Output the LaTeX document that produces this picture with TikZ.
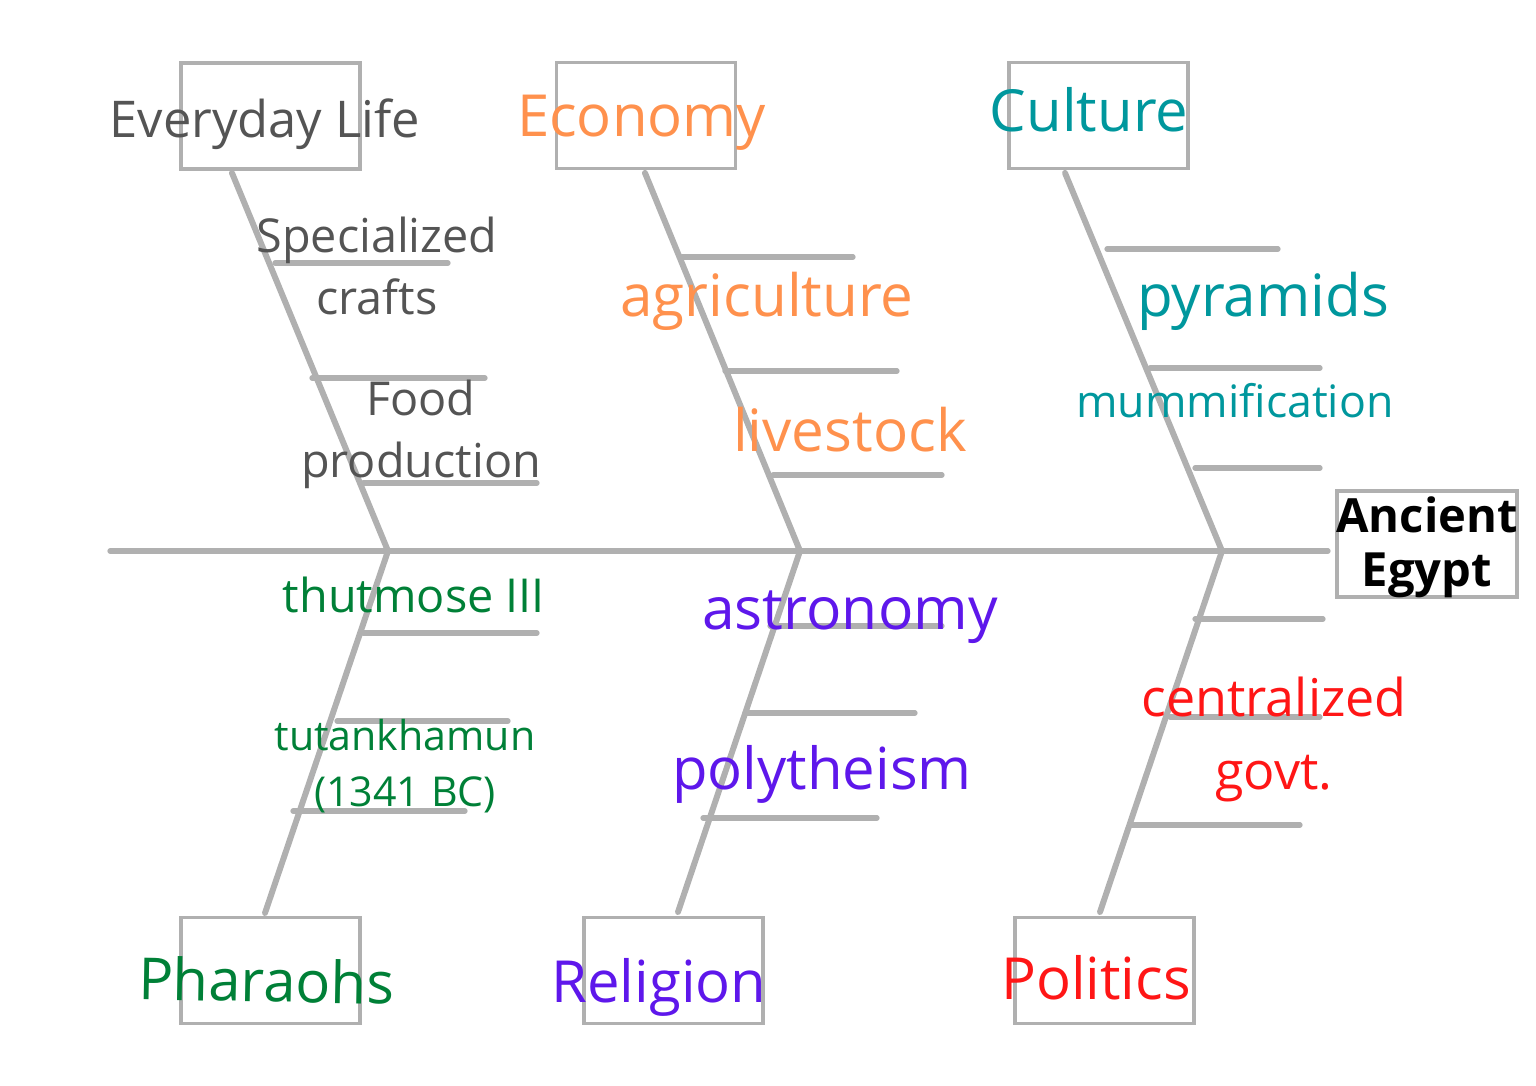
\documentclass[tikz,border=0pt]{standalone}
\usepackage{fontspec}
\setmainfont{Open Sans}
\usetikzlibrary{positioning}
\definecolor{bonegray}{HTML}{B0B0B0}
\definecolor{lifegray}{HTML}{545454}
\definecolor{econorange}{HTML}{FF914D}
\definecolor{cultteal}{HTML}{00979D}
\definecolor{phargreen}{HTML}{008037}
\definecolor{relipurple}{HTML}{5E17EB}
\definecolor{polired}{HTML}{FF1616}
\newcommand{\fs}[2]{\fontsize{#1}{#2}\selectfont}

\begin{document}
\begin{tikzpicture}[x=0.01cm, y=-0.01cm,
	bone/.style={draw=bonegray, line width=1.7pt, line cap=round},
	rib/.style={draw=bonegray, line width=1.5pt, line cap=round},
	catbox/.style={draw=bonegray, line width=1.1pt, minimum width=1.79cm, minimum height=1.06cm, inner sep=0pt},
	lbl/.style={anchor=base, align=center, inner sep=0pt}]
	\useasboundingbox (0,0) rectangle (1536,1086);
	%%%%% SPINE %%%%%
	\coordinate (tail) at (110,551);
	\coordinate (head) at (1328,551);
	\coordinate (lifeJ) at (388,551);
	\coordinate (econJ) at (800,551);
	\coordinate (cultJ) at (1222,551);
	\draw[line width=1.5pt, draw=bonegray, line cap=round] (tail) -- (head);
	
	%%%%% BOXES %%%%%
	\node[catbox] (life) at (270.5,116) {};
	\node[catbox] (econ) at (646,115.5) {};
	\node[catbox] (cult) at (1098.5,115.5) {};
	\node[catbox] (phar) at (270.5,970.5) {};
	\node[catbox] (reli) at (673.5,970.5) {};
	\node[catbox] (poli) at (1104.5,970.5) {};
	\node[catbox, minimum width=1.8cm] (egypt) at (1427,544) {};
	
	%%%%% BONES %%%%%
	\coordinate (lifeT) at (232,173);
	\coordinate (econT) at (645,173);
	\coordinate (cultT) at (1065,173);
	\coordinate (pharB) at (265,913);
	\coordinate (reliB) at (678,912);
	\coordinate (poliB) at (1100,912);
	\draw[bone] (lifeT) -- (lifeJ) -- (pharB);
	\draw[bone] (econT) -- (econJ) -- (reliB);
	\draw[bone] (cultT) -- (cultJ) -- (poliB);
	
	% ribs: x from / x to / y
	\foreach \xa/\xb/\yy in {275/448/263, 312/485/378, 363/537/483,
		682/853/257, 725/897/371, 773/942/475,
		1107/1278/249, 1150/1320/368, 1195/1320/468,
		363/537/633, 337/508/721, 293/465/811,
		770/942/626, 745/915/713, 703/877/818,
		1195/1323/619, 1170/1320/717, 1130/1300/825}
		\draw[rib] (\xa,\yy) -- (\xb,\yy);
	
	%%%%% LABELS %%%%%
	\node[lbl, lifegray, font=\fs{14.4}{17}] (lifeL) at (265,138) {Everyday Life};
	\node[lbl, econorange, font=\fs{16.5}{20}] (econL) at (641.5,137) {Economy};
	\node[lbl, cultteal, font=\fs{16.5}{20}] (cultL) at (1089,132) {Culture};
	\node[lbl, phargreen, rotate=-1, font=\fs{16.5}{20}] (pharL) at (266,1002) {Pharaohs};
	\node[lbl, relipurple, font=\fs{16.5}{20}] (reliL) at (659,1003) {Religion};
	\node[lbl, polired, font=\fs{16.5}{20}] (poliL) at (1096,1000) {Politics};
	\node[lbl, font=\fs{13.4}{15.6}\bfseries] (egyptL) at (1427,587) {Ancient\\Egypt};
	
	\node[lbl, lifegray, font=\fs{13.3}{17.9}] (crafts) at (377,315) {Specialized\\crafts};
	\node[lbl, lifegray, font=\fs{13.3}{17.9}] (food) at (421,478) {Food\\production};
	\node[lbl, econorange, font=\fs{16.6}{20}] (agri) at (767,317) {agriculture};
	\node[lbl, econorange, font=\fs{16.6}{20}] (stock) at (850,452) {livestock};
	\node[lbl, cultteal, font=\fs{16.6}{20}] (pyra) at (1263,317) {pyramids};
	\node[lbl, cultteal, font=\fs{12.7}{15}] (mumm) at (1235,418) {mummification};
	\node[lbl, phargreen, font=\fs{13.3}{16}] (thut) at (414,613) {thutmose III};
	\node[lbl, phargreen, font=\fs{11.7}{16.2}] (tut) at (405,807) {tutankhamun\\(1341 BC)};
	\node[lbl, relipurple, font=\fs{16.7}{20}] (astro) at (850,630) {astronomy};
	\node[lbl, relipurple, font=\fs{16.5}{20}] (poly) at (822,790) {polytheism};
	\node[lbl, polired, font=\fs{14.8}{20.8}] (govt) at (1274,790) {centralized\\govt.};
\end{tikzpicture}
\end{document}
